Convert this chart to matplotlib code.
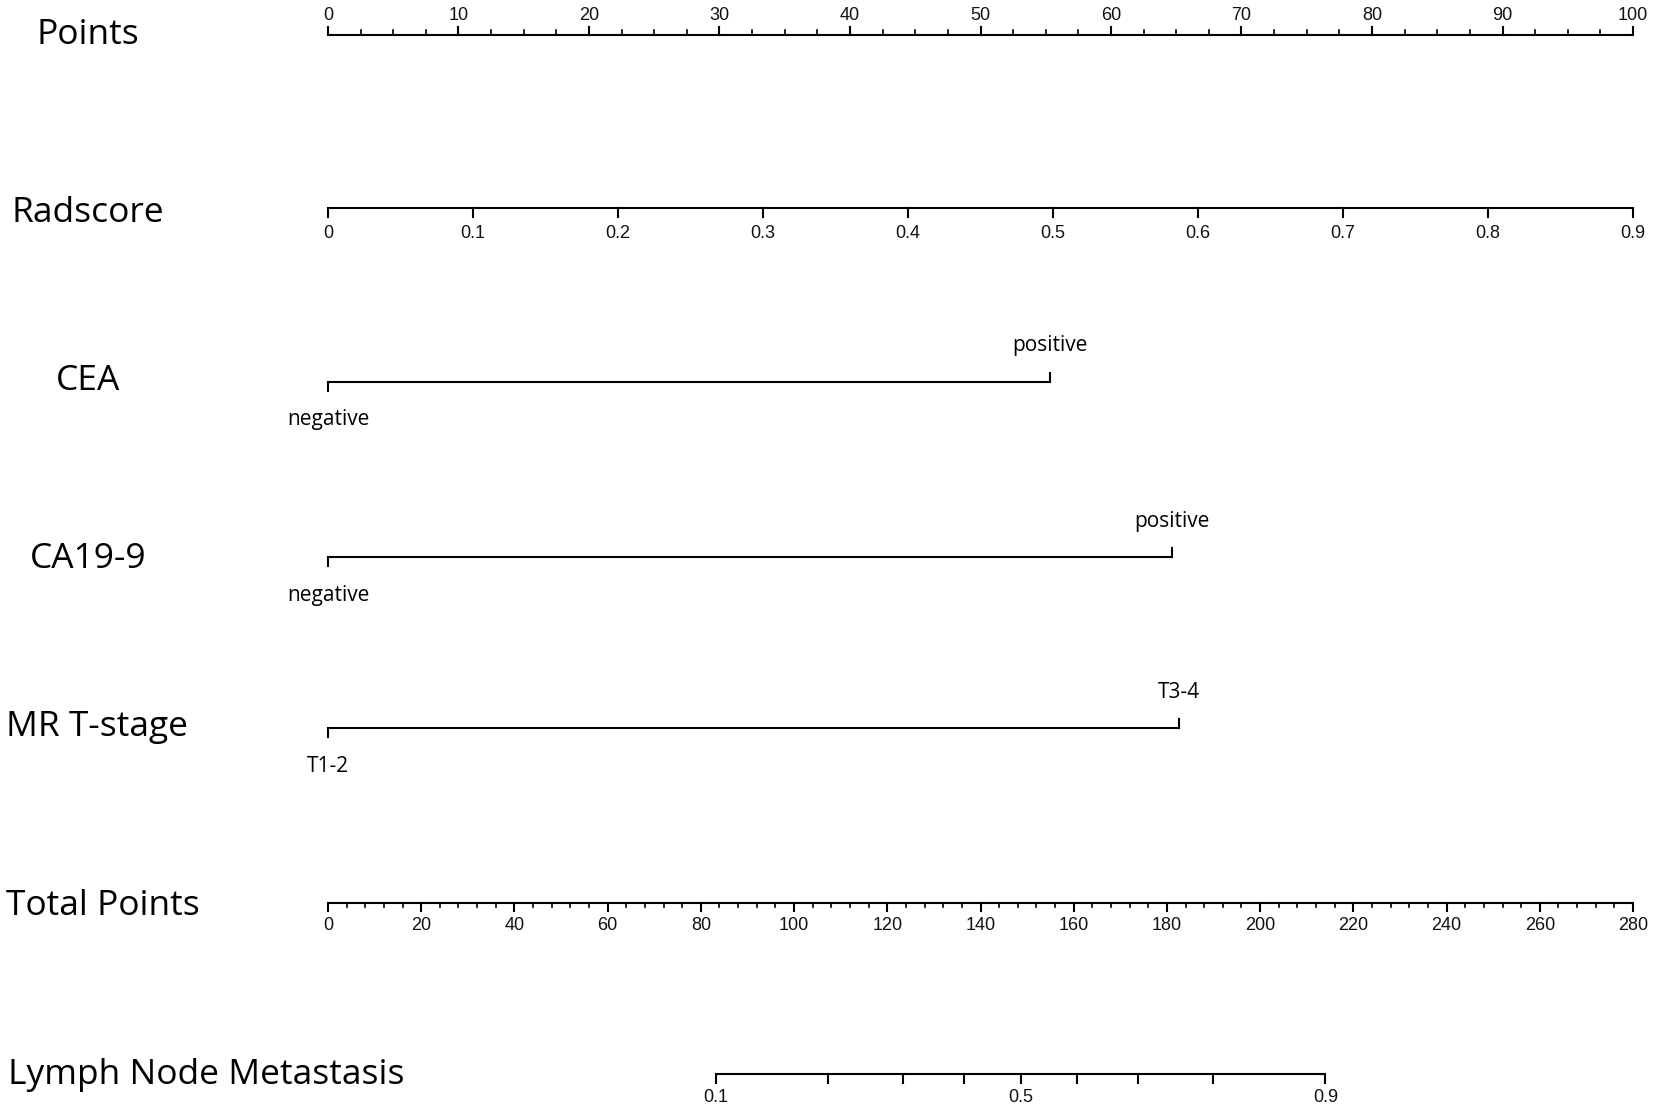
import numpy as np
import matplotlib
matplotlib.use('Agg')
import matplotlib.pyplot as plt

# nomogram data
points_ticks = np.arange(0, 101, 10)
points_minor = np.arange(0, 100.1, 2.5)

radscore_ticks = [0, 0.1, 0.2, 0.3, 0.4, 0.5, 0.6, 0.7, 0.8, 0.9]
radscore_max = 0.9          # radscore value reaching 100 points

cea_levels = ['negative', 'positive']
cea_points = [0, 55.3]

ca199_levels = ['negative', 'positive']
ca199_points = [0, 64.7]

mrt_levels = ['T1-2', 'T3-4']
mrt_points = [0, 65.2]

total_ticks = np.arange(0, 281, 20)
total_minor = np.arange(0, 280.1, 4)
total_max = 280

lnm_probs = [0.1, 0.2, 0.3, 0.4, 0.5, 0.6, 0.7, 0.8, 0.9]
lnm_total = [83.2, 107.3, 123.4, 136.5, 148.6, 160.7, 173.8, 189.9, 214.0]
lnm_shown = ['0.1', '', '', '', '0.5', '', '', '', '0.9']

row_names = ['Points', 'Radscore', 'CEA', 'CA19-9', 'MR T-stage',
             'Total Points', 'Lymph Node Metastasis']

LABEL_FONT = ['Open Sans', 'DejaVu Sans']
TICK_FONT = ['Liberation Sans', 'DejaVu Sans']
LW = 1.5

fig = plt.figure(figsize=(16.54, 11.12), dpi=100)
ax = fig.add_axes([0, 0, 1, 1])
ax.axis('off')
px_per_pt = (1633 - 328) / 100.0
ax.set_xlim(-328 / px_per_pt, (1654 - 328) / px_per_pt)
ax.set_ylim(1112, 0)


def scale_axis(y, pos, labels, up, major_len=8, minor=None, minor_len=5, lab_off=22):
    s = -1 if up else 1
    ax.plot([min(pos), max(pos)], [y, y], color='black', lw=LW, solid_capstyle='butt')
    if minor is not None:
        for m in minor:
            ax.plot([m, m], [y, y + s * minor_len], color='black', lw=LW * 0.8)
    for p, lab in zip(pos, labels):
        ax.plot([p, p], [y, y + s * major_len], color='black', lw=LW)
        if lab:
            ax.text(p, y + s * lab_off, lab, ha='center', va='center',
                    fontsize=13, family=TICK_FONT, color='#111111')


def factor_axis(y, pos, levels):
    ax.plot([pos[0], pos[-1]], [y, y], color='black', lw=LW)
    ax.plot([pos[0], pos[0]], [y, y + 9], color='black', lw=LW)
    ax.plot([pos[-1], pos[-1]], [y, y - 9], color='black', lw=LW)
    ax.text(pos[0], y + 38, levels[0], ha='center', va='center',
            fontsize=15, family=LABEL_FONT)
    ax.text(pos[-1], y - 36, levels[-1], ha='center', va='center',
            fontsize=15, family=LABEL_FONT)


row_y = [35, 208, 382, 557, 728, 903, 1074]
name_dy = [0, 5.5, -1, 2, -1, 3, 1]
name_x = [88, 88, 88, 88, 6, 6, 8]
name_ha = ['center', 'center', 'center', 'center', 'left', 'left', 'left']
for name, y, dy, x, ha in zip(row_names, row_y, name_dy, name_x, name_ha):
    xd = ax.get_xlim()[0] + x / px_per_pt
    ax.text(xd, y + dy, name, ha=ha, va='center', fontsize=25.5, family=LABEL_FONT)

# Points
scale_axis(row_y[0], points_ticks, [str(t) for t in points_ticks], up=True,
           minor=points_minor, lab_off=20)

# Radscore
rad_pos = [v / radscore_max * 100 for v in radscore_ticks]
rad_lab = ['0' if v == 0 else '%g' % v for v in radscore_ticks]
scale_axis(row_y[1], rad_pos, rad_lab, up=False, major_len=9, lab_off=26)

factor_axis(row_y[2], cea_points, cea_levels)
factor_axis(row_y[3], ca199_points, ca199_levels)
factor_axis(row_y[4], mrt_points, mrt_levels)

# Total points
tot_pos = [t / total_max * 100 for t in total_ticks]
scale_axis(row_y[5], tot_pos, [str(t) for t in total_ticks], up=False,
           minor=[m / total_max * 100 for m in total_minor], minor_len=4, lab_off=23)

# Lymph node metastasis probability
lnm_pos = [t / total_max * 100 for t in lnm_total]
scale_axis(row_y[6], lnm_pos, lnm_shown, up=False, major_len=9, lab_off=24)

fig.savefig('out.png', dpi=100)
